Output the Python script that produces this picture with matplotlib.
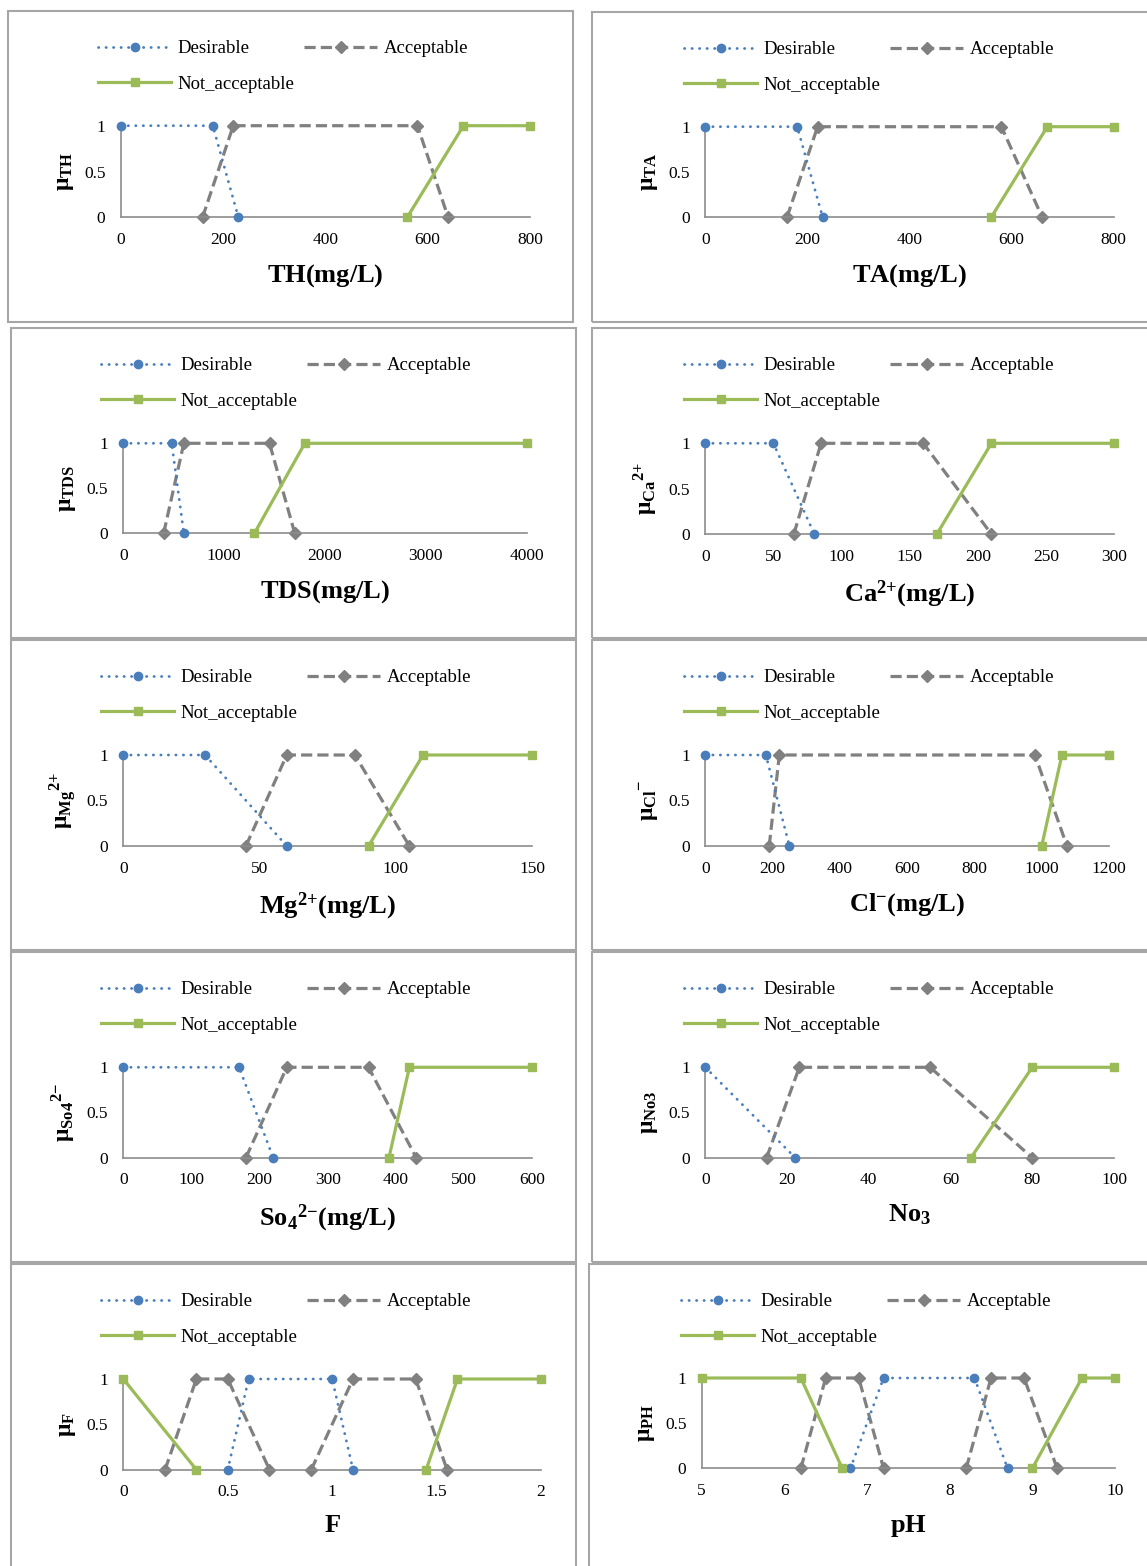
import numpy as np
import matplotlib
matplotlib.use('Agg')
import matplotlib.pyplot as plt
from matplotlib.patches import Rectangle

plt.rcParams['font.family'] = ['Liberation Serif', 'DejaVu Serif']
plt.rcParams['mathtext.fontset'] = 'custom'
plt.rcParams['mathtext.rm'] = 'Liberation Serif'
plt.rcParams['mathtext.it'] = 'Liberation Serif:italic'
plt.rcParams['mathtext.bf'] = 'Liberation Serif:bold'

nan = np.nan

# ---------------- data (membership functions) ----------------
th_des_x = [0, 180, 230];            th_des_y = [1, 1, 0]
th_acc_x = [160, 220, 580, 640];     th_acc_y = [0, 1, 1, 0]
th_not_x = [560, 670, 800];          th_not_y = [0, 1, 1]

ta_des_x = [0, 180, 230];            ta_des_y = [1, 1, 0]
ta_acc_x = [160, 220, 580, 660];     ta_acc_y = [0, 1, 1, 0]
ta_not_x = [560, 670, 800];          ta_not_y = [0, 1, 1]

tds_des_x = [0, 480, 600];           tds_des_y = [1, 1, 0]
tds_acc_x = [400, 600, 1450, 1700];  tds_acc_y = [0, 1, 1, 0]
tds_not_x = [1300, 1800, 4000];      tds_not_y = [0, 1, 1]

ca_des_x = [0, 50, 80];              ca_des_y = [1, 1, 0]
ca_acc_x = [65, 85, 160, 210];       ca_acc_y = [0, 1, 1, 0]
ca_not_x = [170, 210, 300];          ca_not_y = [0, 1, 1]

mg_des_x = [0, 30, 60];              mg_des_y = [1, 1, 0]
mg_acc_x = [45, 60, 85, 105];        mg_acc_y = [0, 1, 1, 0]
mg_not_x = [90, 110, 150];           mg_not_y = [0, 1, 1]

cl_des_x = [0, 180, 250];            cl_des_y = [1, 1, 0]
cl_acc_x = [190, 220, 980, 1075];    cl_acc_y = [0, 1, 1, 0]
cl_not_x = [1000, 1060, 1200];       cl_not_y = [0, 1, 1]

so4_des_x = [0, 170, 220];           so4_des_y = [1, 1, 0]
so4_acc_x = [180, 240, 360, 430];    so4_acc_y = [0, 1, 1, 0]
so4_not_x = [390, 420, 600];         so4_not_y = [0, 1, 1]

no3_des_x = [0, 22];                 no3_des_y = [1, 0]
no3_acc_x = [15, 23, 55, 80];        no3_acc_y = [0, 1, 1, 0]
no3_not_x = [65, 80, 100];           no3_not_y = [0, 1, 1]

f_des_x = [0.5, 0.6, 1.0, 1.1];      f_des_y = [0, 1, 1, 0]
f_acc_x = [0.2, 0.35, 0.5, 0.7, nan, 0.9, 1.1, 1.4, 1.55]
f_acc_y = [0, 1, 1, 0, nan, 0, 1, 1, 0]
f_not_x = [0, 0.35, nan, 1.45, 1.6, 2]
f_not_y = [1, 0, nan, 0, 1, 1]

ph_des_x = [6.8, 7.2, 8.3, 8.7];     ph_des_y = [0, 1, 1, 0]
ph_acc_x = [6.2, 6.5, 6.9, 7.2, nan, 8.2, 8.5, 8.9, 9.3]
ph_acc_y = [0, 1, 1, 0, nan, 0, 1, 1, 0]
ph_not_x = [5, 6.2, 6.7, nan, 9.0, 9.6, 10]
ph_not_y = [1, 1, 0, nan, 0, 1, 1]

# ---------------- panel definitions ----------------
panels = [
    dict(des=(th_des_x, th_des_y), acc=(th_acc_x, th_acc_y), nac=(th_not_x, th_not_y),
         xt=[0, 200, 400, 600, 800], xl=r'$\mathbf{TH(mg/L)}$', yl=r'$\mathbf{\mu_{TH}}$',
         box=(8, 11, 573, 322), ax=(120.7, 530, 125.7, 217.3)),
    dict(des=(ta_des_x, ta_des_y), acc=(ta_acc_x, ta_acc_y), nac=(ta_not_x, ta_not_y),
         xt=[0, 200, 400, 600, 800], xl=r'$\mathbf{TA(mg/L)}$', yl=r'$\mathbf{\mu_{TA}}$',
         box=(592, 12, 1160, 322), ax=(705.3, 1113.7, 126.7, 217.3)),
    dict(des=(tds_des_x, tds_des_y), acc=(tds_acc_x, tds_acc_y), nac=(tds_not_x, tds_not_y),
         xt=[0, 1000, 2000, 3000, 4000], xl=r'$\mathbf{TDS(mg/L)}$', yl=r'$\mathbf{\mu_{TDS}}$',
         box=(11, 328, 576, 638), ax=(123.3, 526.7, 443.3, 533.3)),
    dict(des=(ca_des_x, ca_des_y), acc=(ca_acc_x, ca_acc_y), nac=(ca_not_x, ca_not_y),
         xt=[0, 50, 100, 150, 200, 250, 300], xl=r'$\mathbf{Ca^{2{+}}(mg/L)}$',
         yl=r'$\mathbf{\mu_{Ca}{}^{2{+}}}$',
         box=(592, 328, 1160, 638), ax=(705.3, 1114, 443.3, 534)),
    dict(des=(mg_des_x, mg_des_y), acc=(mg_acc_x, mg_acc_y), nac=(mg_not_x, mg_not_y),
         xt=[0, 50, 100, 150], xl=r'$\mathbf{Mg^{2{+}}(mg/L)}$',
         yl=r'$\mathbf{\mu_{Mg}{}^{2{+}}}$',
         box=(11, 640, 576, 950), ax=(123.3, 532, 755, 846)),
    dict(des=(cl_des_x, cl_des_y), acc=(cl_acc_x, cl_acc_y), nac=(cl_not_x, cl_not_y),
         xt=[0, 200, 400, 600, 800, 1000, 1200], xl=r'$\mathbf{Cl^{-}(mg/L)}$',
         yl=r'$\mathbf{\mu_{Cl}{}^{-}}$',
         box=(592, 640, 1160, 950), ax=(705.3, 1109, 755, 846)),
    dict(des=(so4_des_x, so4_des_y), acc=(so4_acc_x, so4_acc_y), nac=(so4_not_x, so4_not_y),
         xt=[0, 100, 200, 300, 400, 500, 600], xl=r'$\mathbf{So_4{}^{2{-}}(mg/L)}$',
         yl=r'$\mathbf{\mu_{So4}{}^{2{-}}}$',
         box=(11, 952, 576, 1262), ax=(123.3, 532, 1067.3, 1157.7)),
    dict(des=(no3_des_x, no3_des_y), acc=(no3_acc_x, no3_acc_y), nac=(no3_not_x, no3_not_y),
         xt=[0, 20, 40, 60, 80, 100], xl=r'$\mathbf{No_3}$', yl=r'$\mathbf{\mu_{No3}}$',
         box=(592, 952, 1160, 1262), ax=(705.3, 1114, 1067.3, 1157.7)),
    dict(des=(f_des_x, f_des_y), acc=(f_acc_x, f_acc_y), nac=(f_not_x, f_not_y),
         xt=[0, 0.5, 1, 1.5, 2], xl=r'$\mathbf{F}$', yl=r'$\mathbf{\mu_{F}}$',
         box=(11, 1264, 576, 1575), ax=(123.3, 541, 1379, 1469.7)),
    dict(des=(ph_des_x, ph_des_y), acc=(ph_acc_x, ph_acc_y), nac=(ph_not_x, ph_not_y),
         xt=[5, 6, 7, 8, 9, 10], xl=r'$\mathbf{pH}$', yl=r'$\mathbf{\mu_{PH}}$',
         box=(589, 1264, 1160, 1575), ax=(701.7, 1115, 1378, 1468.3)),
]

W, H = 1147, 1566
fig = plt.figure(figsize=(W / 100, H / 100), dpi=100)

BLUE = '#4A7EBB'
GRAY = '#808080'
GREEN = '#9BBB59'
AXC = '#8C8C8C'


def fx(x):
    return x / W


def fy(y):
    return 1 - y / H


for p in panels:
    bl, bt, br, bb = p['box']
    fig.add_artist(Rectangle((fx(bl), fy(bb)), fx(br) - fx(bl), fy(bt) - fy(bb),
                             transform=fig.transFigure, fill=False,
                             edgecolor='#A6A6A6', lw=1.5))

    x0, x1, yt, yb = p['ax']
    ax = fig.add_axes([fx(x0), fy(yb), fx(x1) - fx(x0), fy(yt) - fy(yb)])

    l1, = ax.plot(*p['des'], color=BLUE, lw=2.0, ls=(0, (0.1, 2.6)),
                  dash_capstyle='round', marker='o', ms=6, clip_on=False,
                  zorder=3, label='Desirable')
    l2, = ax.plot(*p['acc'], color=GRAY, lw=2.3, ls=(0, (3.5, 1.6)),
                  marker='D', ms=6, clip_on=False, zorder=2, label='Acceptable')
    l3, = ax.plot(*p['nac'], color=GREEN, lw=2.3, ls='-', marker='s', ms=5.5,
                  clip_on=False, zorder=4, label='Not_acceptable')

    ax.set_xlim(p['xt'][0], p['xt'][-1])
    ax.set_ylim(0, 1)
    ax.set_xticks(p['xt'])
    ax.set_xticklabels(['%g' % v for v in p['xt']])
    ax.set_yticks([0, 0.5, 1])
    ax.set_yticklabels(['0', '0.5', '1'])
    ax.tick_params(length=0, labelsize=12.5, colors='black')
    ax.tick_params(axis='x', pad=10.5)
    ax.tick_params(axis='y', pad=11)
    for s in ['top', 'right']:
        ax.spines[s].set_visible(False)
    for s in ['left', 'bottom']:
        ax.spines[s].set_color(AXC)
        ax.spines[s].set_linewidth(1.2)
    ax.set_facecolor('none')

    axw = x1 - x0
    axh = yb - yt
    ax.set_xlabel(p['xl'], fontsize=19)
    ax.xaxis.set_label_coords(0.5, -45 / axh)
    ax.set_ylabel(p['yl'], fontsize=17)
    ax.yaxis.set_label_coords(-45 / axw, 0.5)

    # legend: two entries on the first row, one on the second
    hx = bl + (90 if bl < 300 else 92)
    fig.legend([l1, l3, l2], ['Desirable', 'Not_acceptable', 'Acceptable'],
               loc='upper left', bbox_to_anchor=(fx(hx), fy(bt + 29)),
               ncol=2, frameon=False, fontsize=13.5, handlelength=3.9,
               handletextpad=0.35, columnspacing=0.5, labelspacing=0.98,
               borderpad=0, borderaxespad=0)

fig.savefig('out.png', dpi=100)
